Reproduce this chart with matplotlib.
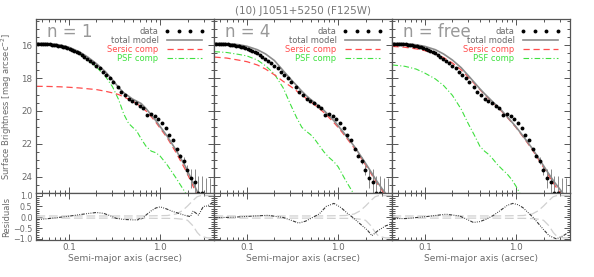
import matplotlib
matplotlib.use("Agg")
import matplotlib.pyplot as plt
from matplotlib.ticker import FixedLocator, MultipleLocator, NullFormatter, LogLocator

# surface brightness profile (same data for every panel)
data_r = [0.0438, 0.0463, 0.0490, 0.0518, 0.0548, 0.0579, 0.0612, 0.0647, 0.0684,
          0.0723, 0.0765, 0.0808, 0.0855, 0.0904, 0.0958, 0.1015, 0.1076, 0.1144,
          0.1215, 0.1294, 0.1382, 0.1480, 0.1589, 0.1710, 0.1845, 0.1995, 0.2163,
          0.2351, 0.2563, 0.2801, 0.3068, 0.3420, 0.3756, 0.4083, 0.4518, 0.4961,
          0.5448, 0.5967, 0.6553, 0.7196, 0.7963, 0.8723, 0.9578, 1.052, 1.152,
          1.256, 1.375, 1.522, 1.672, 1.835, 1.995, 2.208, 2.424, 2.636, 2.916,
          3.20, 3.50]
data_mu = [15.91, 15.91, 15.91, 15.92, 15.93, 15.93, 15.95, 15.96, 15.98,
           16.00, 16.02, 16.05, 16.09, 16.12, 16.16, 16.22, 16.27, 16.34,
           16.41, 16.50, 16.59, 16.69, 16.81, 16.94, 17.09, 17.24, 17.40,
           17.60, 17.82, 18.02, 18.21, 18.52, 18.84, 19.06, 19.25, 19.40,
           19.51, 19.67, 19.81, 20.22, 20.18, 20.30, 20.48, 20.71, 21.05,
           21.47, 21.78, 22.30, 22.73, 23.03, 23.58, 24.11, 24.35, 24.97, 24.97,
           25.6, 25.6]
data_err = [0.01] * 48 + [0.1, 0.2, 0.3, 0.6, 0.8, 1.0, 1.0, 1.5, 1.5]

# model components
model_r = [0.044, 0.06, 0.08, 0.1, 0.13, 0.16, 0.2, 0.25, 0.3, 0.35, 0.4, 0.45, 0.5,
           0.55, 0.62, 0.7, 0.8, 0.9, 1.0, 1.2, 1.5, 1.9, 2.2, 2.6, 3.0, 3.5]

total_n1 = [15.87, 15.90, 15.98, 16.12, 16.40, 16.71, 17.12, 17.60, 18.10, 18.57, 18.90,
            19.10, 19.28, 19.40, 19.55, 19.85, 20.25, 20.60, 20.95, 21.55, 22.40, 23.40,
            24.15, 25.00, 25.90, 27.00]
sersic_n1 = [18.50, 18.51, 18.53, 18.56, 18.60, 18.65, 18.70, 18.80, 18.90, 19.00, 19.15,
             19.28, 19.40, 19.55, 19.75, 20.00, 20.35, 20.70, 21.05, 21.65, 22.55, 23.60,
             24.35, 25.25, 26.20, 27.30]
psf_n1 = [15.93, 15.97, 16.08, 16.22, 16.52, 16.88, 17.33, 17.88, 18.52, 19.30, 20.20,
          20.75, 21.00, 21.20, 21.70, 22.15, 22.45, 22.55, 22.75, 23.30, 24.10, 25.00,
          25.70, 26.50, 27.20, 28.00]

total_n4 = [15.87, 15.90, 15.96, 16.06, 16.27, 16.53, 16.93, 17.55, 18.05, 18.45, 18.80,
            19.08, 19.30, 19.48, 19.72, 19.97, 20.30, 20.60, 20.90, 21.45, 22.15, 23.00,
            23.55, 24.20, 24.70, 25.20]
sersic_n4 = [16.72, 16.78, 16.90, 17.00, 17.20, 17.45, 17.80, 18.20, 18.50, 18.78, 19.02,
             19.25, 19.45, 19.62, 19.85, 20.10, 20.42, 20.72, 21.00, 21.55, 22.25, 23.10,
             23.65, 24.30, 24.80, 25.30]
psf_n4 = [16.39, 16.44, 16.55, 16.65, 16.90, 17.25, 17.75, 18.60, 19.60, 20.40, 21.00,
          21.25, 21.45, 21.70, 22.10, 22.50, 22.85, 23.10, 23.40, 24.20, 25.10, 26.00,
          26.50, 27.00, 27.50, 28.00]

total_nf = [15.87, 15.90, 15.97, 16.07, 16.27, 16.53, 16.90, 17.37, 17.86, 18.28, 18.65,
            18.95, 19.20, 19.43, 19.70, 20.00, 20.36, 20.68, 20.98, 21.55, 22.28, 23.15,
            23.70, 24.30, 24.75, 25.25]
sersic_nf = [16.07, 16.12, 16.22, 16.33, 16.52, 16.75, 17.08, 17.50, 17.95, 18.35, 18.70,
             19.00, 19.25, 19.47, 19.75, 20.05, 20.40, 20.72, 21.02, 21.60, 22.35, 23.25,
             23.80, 24.45, 24.95, 25.50]
psf_nf = [17.20, 17.28, 17.45, 17.70, 18.05, 18.45, 19.05, 19.90, 20.80, 21.50, 22.15,
          22.45, 22.65, 22.90, 23.25, 23.55, 23.85, 24.20, 24.60, 25.40, 26.20, 27.00,
          27.50, 28.00, 28.50, 29.00]

# residuals
res_r_n1 = [0.044, 0.06, 0.08, 0.1, 0.13, 0.16, 0.2, 0.24, 0.28, 0.33, 0.4, 0.5, 0.57,
            0.6, 0.63, 0.7, 0.8, 0.9, 1.0, 1.15, 1.35, 1.6, 1.9, 2.15, 2.3, 2.64, 2.98,
            3.3, 3.9]
res_n1 = [-0.12, -0.06, 0.0, 0.05, 0.12, 0.17, 0.22, 0.18, 0.08, -0.05, -0.10, -0.12,
          -0.12, -0.04, -0.10, 0.10, 0.30, 0.43, 0.48, 0.40, 0.28, 0.18, 0.08, 0.03,
          0.29, 0.10, 0.50, 0.52, 0.72]
res_r_n4 = [0.044, 0.07, 0.1, 0.17, 0.25, 0.31, 0.37, 0.44, 0.53, 0.62, 0.74, 0.9, 1.08,
            1.25, 1.44, 1.84, 2.1, 2.35, 2.73, 3.35, 3.9]
res_n4 = [-0.02, 0.0, 0.04, 0.09, -0.01, -0.15, -0.27, -0.18, 0.0, 0.15, 0.50, 0.64,
          0.44, 0.20, 0.0, -0.39, -0.60, -0.85, -0.62, -0.39, -0.30]
res_r_nf = [0.044, 0.062, 0.103, 0.17, 0.24, 0.29, 0.34, 0.4, 0.47, 0.56, 0.66, 0.8,
            0.92, 1.05, 1.19, 1.54, 1.98, 2.3, 2.77, 3.3, 3.9]
res_nf = [-0.06, -0.06, 0.03, 0.14, 0.06, -0.10, -0.24, -0.20, -0.09, 0.08, 0.29, 0.55,
          0.64, 0.58, 0.44, -0.01, -0.55, -0.85, -1.0, -0.85, -0.65]

# error envelope in the residual panels
env_r = [0.044, 0.3, 0.6, 0.9, 1.2, 1.5, 1.75, 2.0, 2.3, 2.55, 2.8, 3.3, 3.9]
env_hi = [0.06, 0.06, 0.06, 0.07, 0.08, 0.15, 0.30, 0.52, 0.78, 0.95, 1.0, 1.0, 1.0]
env_lo = [-0.04, -0.04, -0.04, -0.05, -0.05, -0.06, -0.09, -0.14, -0.40, -0.70, -0.88,
          -0.95, -0.95]

panels = [("n = 1", total_n1, sersic_n1, psf_n1, res_r_n1, res_n1),
          ("n = 4", total_n4, sersic_n4, psf_n4, res_r_n4, res_n4),
          ("n = free", total_nf, sersic_nf, psf_nf, res_r_nf, res_nf)]

AX = "#555555"
TXT = "#6a6a6a"
RED = "#ff4d4d"
GREEN = "#40e040"

plt.rcParams["font.family"] = "DejaVu Sans"
plt.rcParams["font.size"] = 6.5

W, H = 594, 277
fig = plt.figure(figsize=(W / 100, H / 100), dpi=100)


def style_axes(ax):
    for s in ax.spines.values():
        s.set_color(AX)
        s.set_linewidth(0.9)
    ax.tick_params(which="both", direction="in", top=True, right=True,
                   colors=AX, labelcolor=TXT, labelsize=6.3, width=0.7)
    ax.tick_params(which="major", length=4, pad=2.5)
    ax.tick_params(which="minor", length=2)
    ax.set_xscale("log")
    ax.set_xlim(0.0435, 3.9)
    ax.xaxis.set_major_locator(FixedLocator([0.1, 1.0]))
    ax.xaxis.set_minor_locator(LogLocator(base=10, subs=range(2, 10)))
    ax.xaxis.set_minor_formatter(NullFormatter())


x0, pw = 36, 178
for i, (label, tot, ser, psf, rr, res) in enumerate(panels):
    left = (x0 + i * pw) / W
    ax = fig.add_axes([left, (H - 193) / H, pw / W, 174 / H])
    axr = fig.add_axes([left, (H - 240) / H, pw / W, 47 / H])

    # main panel
    ax.plot(model_r, psf, color=GREEN, lw=0.8, ls=(0, (5, 2, 1, 2)), label="PSF comp")
    ax.plot(model_r, ser, color=RED, lw=0.9, ls=(0, (5, 3)), label="Sersic comp")
    ax.plot(model_r, tot, color="#8c8c8c", lw=1.2, label="total model")
    ax.vlines([r for r, e in zip(data_r, data_err) if e > 0.05],
              [m - e for m, e in zip(data_mu, data_err) if e > 0.05],
              [m + e for m, e in zip(data_mu, data_err) if e > 0.05],
              color="#8a8a8a", lw=0.7)
    ax.plot(data_r, data_mu, "o", color="black", ms=2.8, mew=0, label="data")
    style_axes(ax)
    ax.set_ylim(25, 14.4)
    ax.yaxis.set_major_locator(MultipleLocator(2))
    ax.yaxis.set_minor_locator(MultipleLocator(0.5))
    ax.set_xticklabels([])
    if i > 0:
        ax.set_yticklabels([])
    ax.text(0.06, 0.975, label, transform=ax.transAxes, ha="left", va="top",
            fontsize=12, color="#999999")

    h, l = ax.get_legend_handles_labels()
    order = [3, 2, 1, 0]
    leg = ax.legend([h[k] for k in order], [l[k] for k in order], loc="upper right",
                    bbox_to_anchor=(0.965, 0.975), frameon=False, markerfirst=False,
                    numpoints=4, handlelength=4.8, handletextpad=0.7,
                    labelspacing=0.0, borderaxespad=0, fontsize=6.0)
    for t, c in zip(leg.get_texts(), [TXT, TXT, RED, GREEN]):
        t.set_color(c)

    # residual panel
    axr.plot(env_r, env_hi, color="#d0d0d0", lw=0.9, ls=(0, (7, 3)))
    axr.plot(env_r, env_lo, color="#d0d0d0", lw=0.9, ls=(0, (7, 3)))
    axr.plot(rr, res, color="#3a3a3a", lw=0.8,
             ls=(0, (3, 1.2, 0.8, 1.2, 0.8, 1.2, 0.8, 1.2)))
    style_axes(axr)
    axr.set_ylim(-1.05, 1.12)
    axr.yaxis.set_major_locator(FixedLocator([-1.0, -0.5, 0.0, 0.5, 1.0]))
    axr.yaxis.set_minor_locator(MultipleLocator(0.1))
    axr.set_xticklabels(["0.1", "1.0"])
    if i == 0:
        axr.set_yticklabels(["\u22121.0", "\u22120.5", "0.0", "0.5", "1.0"],
                            fontsize=5.8)
        axr.set_ylabel("Residuals", color=TXT, fontsize=6.0)
        axr.yaxis.set_label_coords(-0.14, 0.5)
        ax.set_ylabel("Surface Brightness [mag arcsec$^{-2}$]", color=TXT,
                      fontsize=6.0)
        ax.yaxis.set_label_coords(-0.125, 0.5)
    else:
        axr.set_yticklabels([])
    axr.set_xlabel("Semi-major axis (acrsec)", color=TXT, fontsize=6.6, labelpad=1)

fig.text(303 / W, 1 - 11 / H, "(10) J1051+5250 (F125W)", ha="center", va="center",
         fontsize=7.5, color="#777777")

fig.savefig("out.png", dpi=100)
